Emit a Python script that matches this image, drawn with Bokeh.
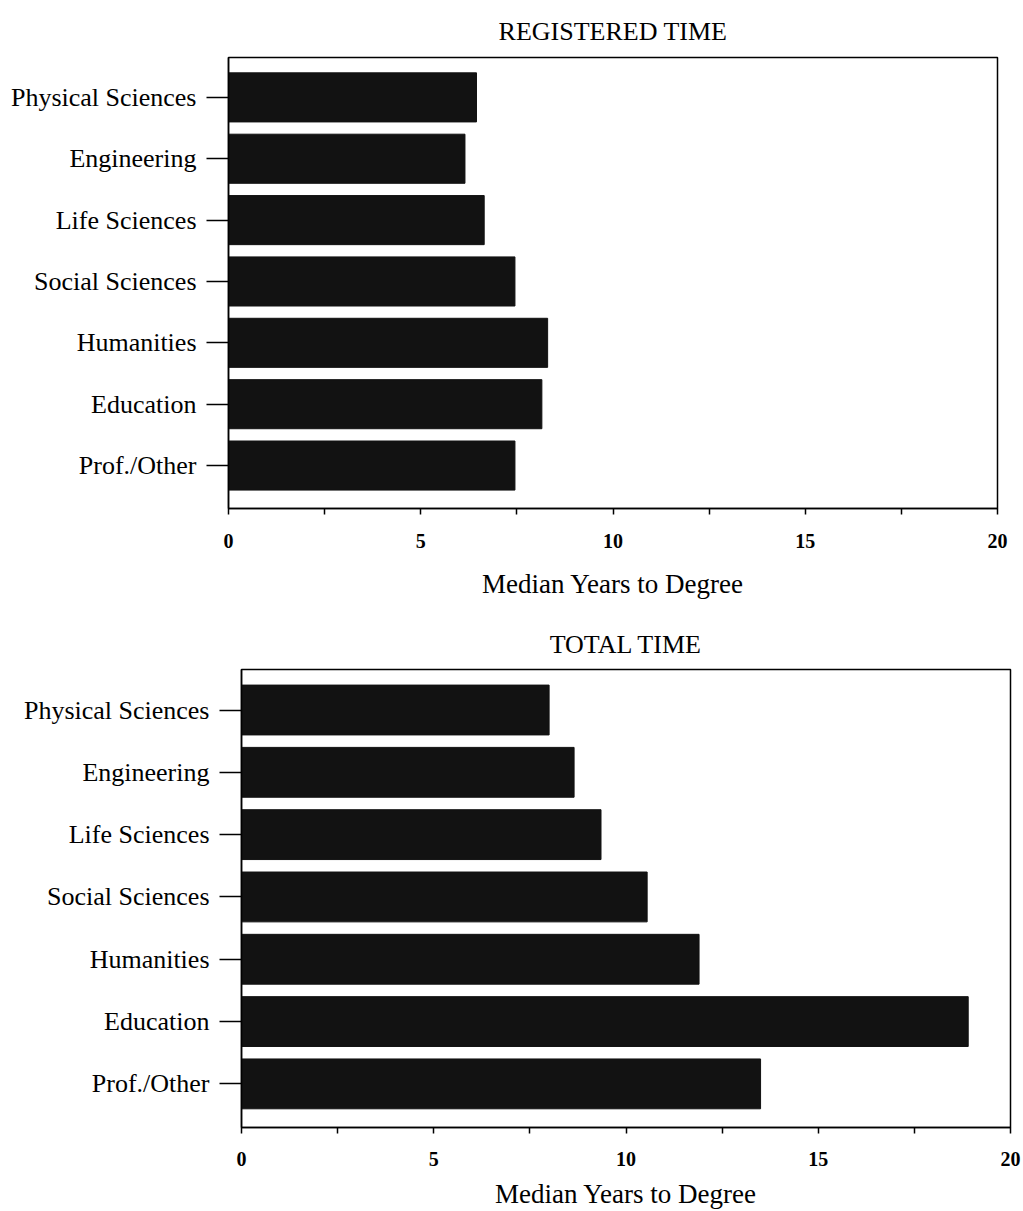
from bokeh.plotting import figure
from bokeh.layouts import column, row
from bokeh.models import Range1d, FixedTicker, ColumnDataSource, Spacer
from bokeh.embed import file_html
from bokeh.resources import INLINE

categories = ["Physical Sciences", "Engineering", "Life Sciences", "Social Sciences",
              "Humanities", "Education", "Prof./Other"]
registered = [6.45, 6.15, 6.65, 7.45, 8.3, 8.15, 7.45]
total = [8.0, 8.65, 9.35, 10.55, 11.9, 18.9, 13.5]
x_ticks = [0, 2.5, 5, 7.5, 10, 12.5, 15, 17.5, 20]
x_labels = ["0", "", "5", "", "10", "", "15", "", "20"]

FONT = "Liberation Serif"


def make_panel(title, values, height, b_top, b_bottom, title_valign,
               title_standoff, label_standoff, axis_label_standoff):
    n = len(categories)
    ypos = [n - 1 - i for i in range(n)]
    src = ColumnDataSource(dict(y=ypos, v=values, cat=categories))
    p = figure(width=1009, height=height, output_backend="svg", toolbar_location=None,
               x_range=Range1d(0, 20), y_range=Range1d(-0.7, 6.65),
               min_border_left=228, min_border_right=12,
               min_border_top=b_top, min_border_bottom=b_bottom)
    p.hbar(y="y", left=0, right="v", height=0.8, source=src,
           fill_color="#121212", line_color="#121212")
    p.title.text = title
    p.title.align = "center"
    p.title.vertical_align = title_valign
    p.title.text_font = FONT
    p.title.text_font_style = "normal"
    p.title.text_font_size = "26px"
    p.title.text_color = "black"
    p.title.standoff = title_standoff

    p.xgrid.visible = False
    p.ygrid.visible = False
    p.outline_line_color = "black"
    p.outline_line_width = 1.5
    p.background_fill_color = "white"
    p.border_fill_color = "white"

    xa = p.xaxis[0]
    xa.ticker = FixedTicker(ticks=x_ticks)
    xa.major_label_overrides = {t: l for t, l in zip(x_ticks, x_labels)}
    xa.minor_tick_line_color = None
    xa.major_tick_in = 0
    xa.major_tick_out = 6
    xa.major_tick_line_width = 1.5
    xa.axis_line_width = 1.5
    xa.major_label_text_font = FONT
    xa.major_label_text_font_style = "bold"
    xa.major_label_text_font_size = "20px"
    xa.major_label_text_color = "black"
    xa.major_label_standoff = label_standoff
    xa.axis_label = "Median Years to Degree"
    xa.axis_label_text_font = FONT
    xa.axis_label_text_font_style = "normal"
    xa.axis_label_text_font_size = "27px"
    xa.axis_label_text_color = "black"
    xa.axis_label_standoff = axis_label_standoff

    ya = p.yaxis[0]
    ya.ticker = FixedTicker(ticks=ypos)
    ya.major_label_overrides = {y: c for y, c in zip(ypos, categories)}
    ya.minor_tick_line_color = None
    ya.major_tick_in = 0
    ya.major_tick_out = 22
    ya.major_tick_line_width = 1.5
    ya.axis_line_width = 1.5
    ya.major_label_text_font = FONT
    ya.major_label_text_font_size = "26px"
    ya.major_label_text_color = "black"
    ya.major_label_standoff = 10
    return p


p1 = make_panel("REGISTERED TIME", registered, 601, 57, 91, "top", 19, 19, 18)
p2 = make_panel("TOTAL TIME", total, 610, 68, 84, "bottom", 22, 18, 10)

layout = column(p1, row(Spacer(width=13), p2))
open("out.html", "w").write(file_html(layout, INLINE))
